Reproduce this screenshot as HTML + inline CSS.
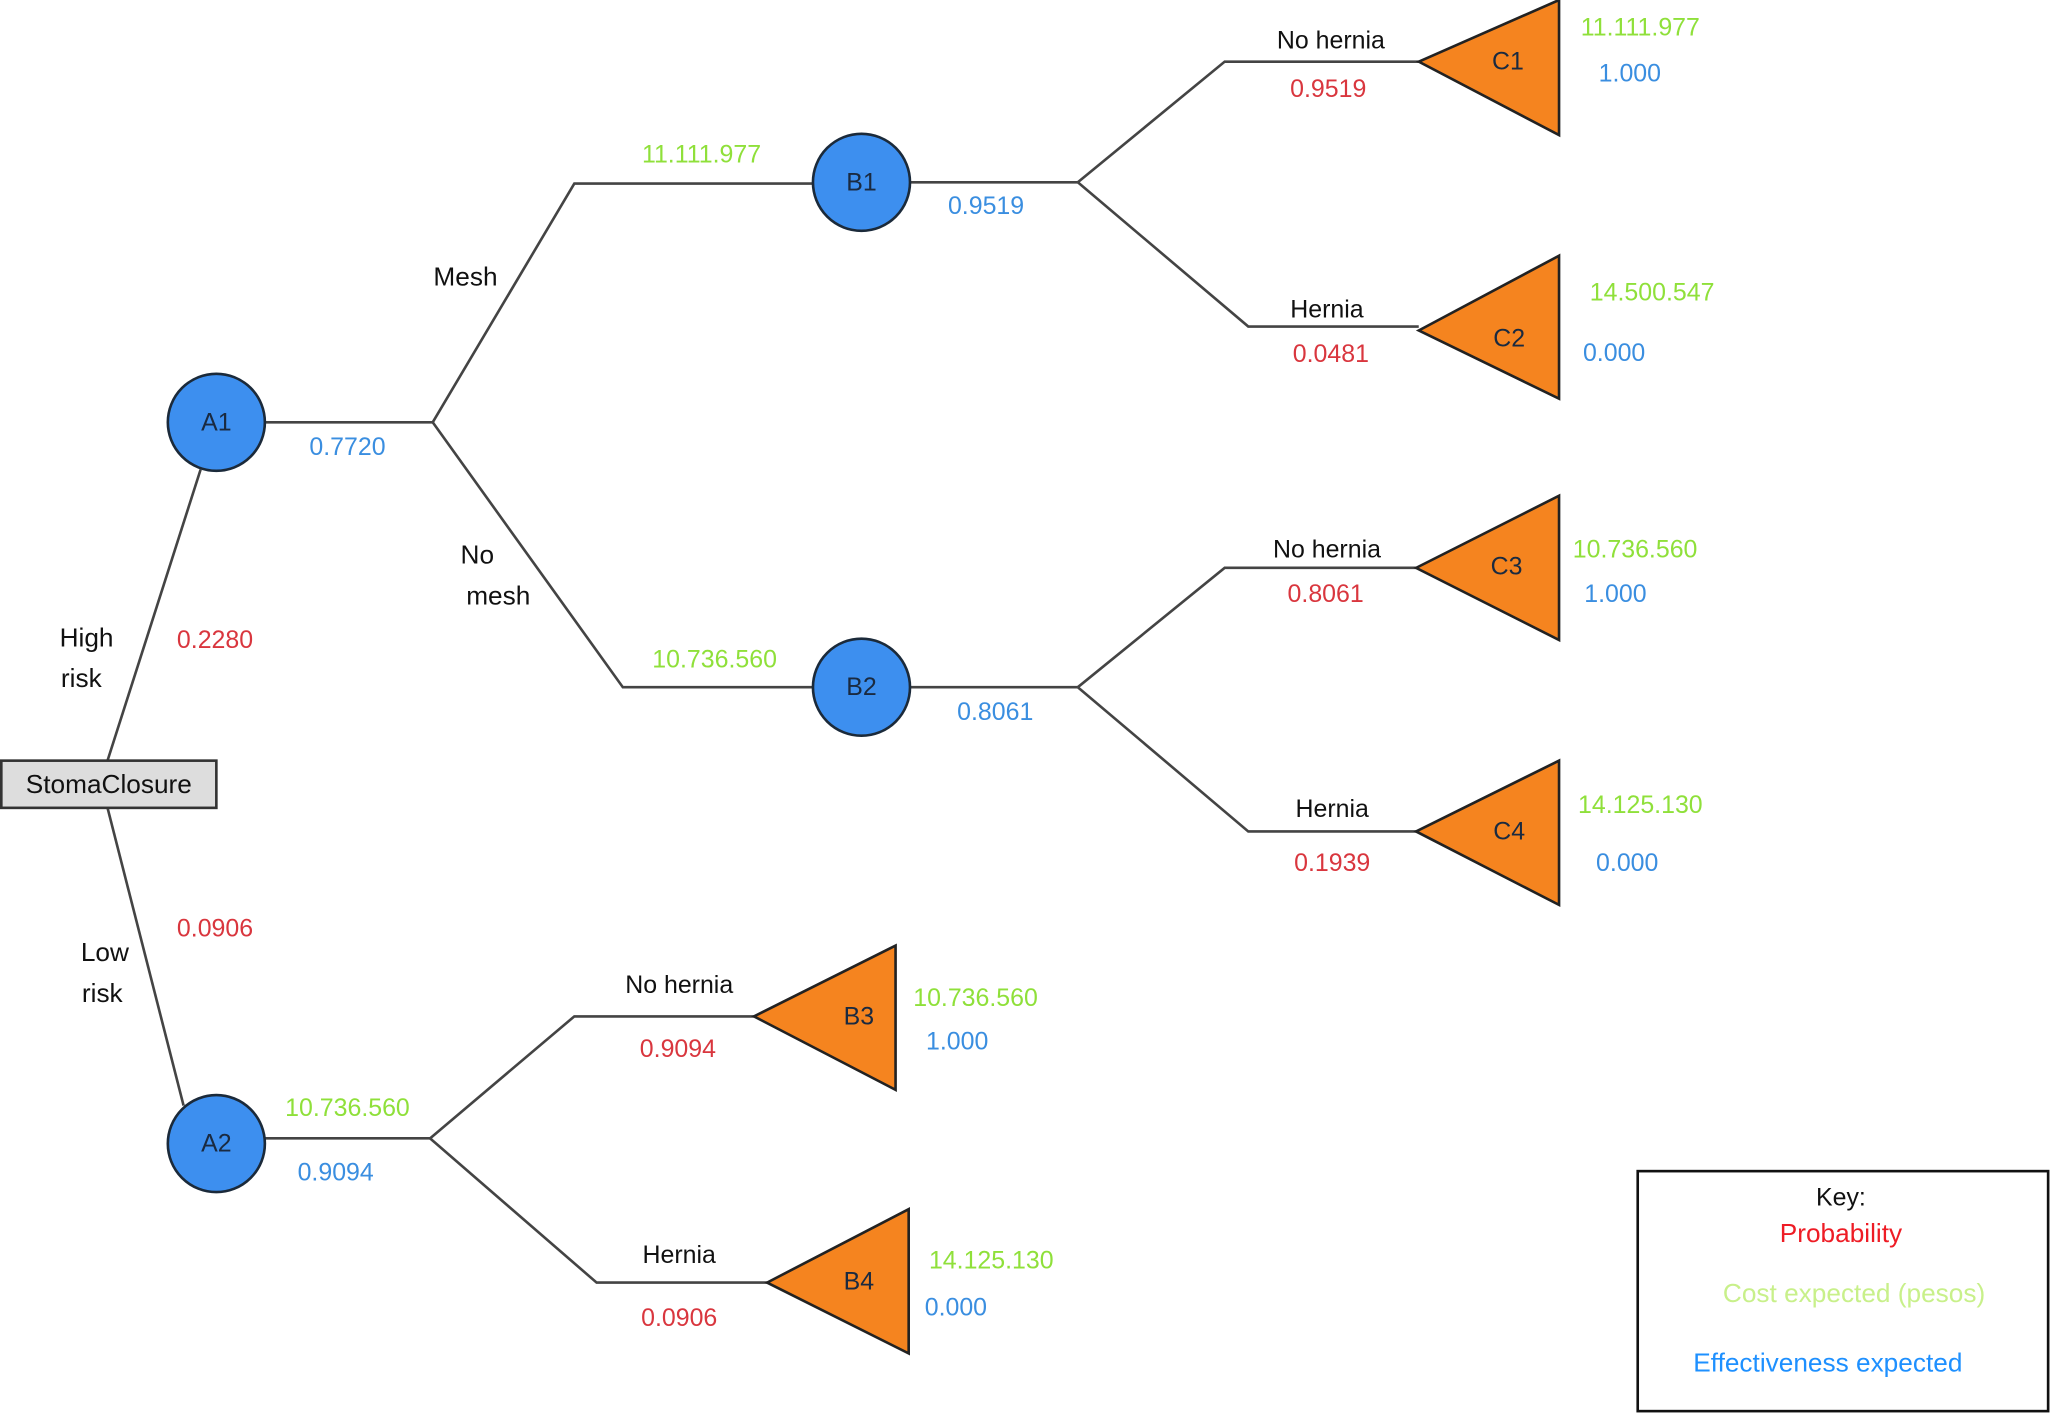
<!DOCTYPE html>
<html><head><meta charset="utf-8"><style>
html,body{margin:0;padding:0;background:#fff;width:2056px;height:1419px;overflow:hidden}
svg{display:block}
text{font-family:"Liberation Sans",sans-serif;text-anchor:middle;dominant-baseline:central}
.g{fill:#8fe03a;font-size:19px}
.b{fill:#3a8ee0;font-size:19px}
.r{fill:#d9363e;font-size:19px}
.k{fill:#111;font-size:20px}
.n{fill:#1a2a40;font-size:19px}
</style></head><body>
<svg width="2056" height="1419" viewBox="0 0 1568 1082" preserveAspectRatio="none" xmlns="http://www.w3.org/2000/svg">
<g stroke="#444" stroke-width="2" fill="none">
<polyline points="82,580 153,358"/>
<polyline points="82,616 140,843"/>
<polyline points="202,322 330,322"/>
<polyline points="330,322 438,140 620,140"/>
<polyline points="330,322 475,524 620,524"/>
<polyline points="694,139 822,139"/>
<polyline points="822,139 934,47 1082,47"/>
<polyline points="822,139 952,249 1082,249"/>
<polyline points="694,524 822,524"/>
<polyline points="822,524 934,433 1080,433"/>
<polyline points="822,524 952,634 1080,634"/>
<polyline points="202,868 328,868"/>
<polyline points="328,868 438,775 575,775"/>
<polyline points="328,868 455,978 585,978"/>
</g>
<rect x="1" y="580" width="164" height="36" fill="#ddd" stroke="#333" stroke-width="2"/>
<text x="83" y="598" class="k">StomaClosure</text>
<g fill="#3d8fef" stroke="#1b2a3a" stroke-width="2">
<circle cx="165" cy="322" r="37"/>
<circle cx="165" cy="872" r="37"/>
<circle cx="657" cy="139" r="37"/>
<circle cx="657" cy="524" r="37"/>
</g>
<g fill="#f5841f" stroke="#222" stroke-width="2">
<polygon points="1082,47 1189,0 1189,103"/>
<polygon points="1082,252 1189,195 1189,304"/>
<polygon points="1080,433 1189,378 1189,488"/>
<polygon points="1080,634 1189,580 1189,690"/>
<polygon points="575,775 683,721 683,831"/>
<polygon points="585,978 693,922 693,1032"/>
</g>
<text x="165" y="322" class="n">A1</text>
<text x="165" y="872" class="n">A2</text>
<text x="657" y="139" class="n">B1</text>
<text x="657" y="524" class="n">B2</text>
<text x="1150" y="47" class="n">C1</text>
<text x="1151" y="258" class="n">C2</text>
<text x="1149" y="432" class="n">C3</text>
<text x="1151" y="634" class="n">C4</text>
<text x="655" y="775" class="n">B3</text>
<text x="655" y="977" class="n">B4</text>

<text x="535" y="118" class="g">11.111.977</text>
<text x="752" y="157" class="b">0.9519</text>
<text x="265" y="341" class="b">0.7720</text>
<text x="355" y="211" class="k">Mesh</text>
<text x="364" y="423" class="k">No</text>
<text x="380" y="454" class="k">mesh</text>
<text x="66" y="486" class="k">High</text>
<text x="62" y="517" class="k">risk</text>
<text x="164" y="488" class="r">0.2280</text>
<text x="545" y="503" class="g">10.736.560</text>
<text x="759" y="543" class="b">0.8061</text>
<text x="164" y="708" class="r">0.0906</text>
<text x="80" y="726" class="k">Low</text>
<text x="78" y="757" class="k">risk</text>
<text x="265" y="845" class="g">10.736.560</text>
<text x="256" y="894" class="b">0.9094</text>

<text x="1015" y="31" class="k" style="font-size:19px">No hernia</text>
<text x="1013" y="68" class="r">0.9519</text>
<text x="1251" y="21" class="g">11.111.977</text>
<text x="1243" y="56" class="b">1.000</text>
<text x="1012" y="236" class="k" style="font-size:19px">Hernia</text>
<text x="1015" y="270" class="r">0.0481</text>
<text x="1260" y="223" class="g">14.500.547</text>
<text x="1231" y="269" class="b">0.000</text>
<text x="1012" y="419" class="k" style="font-size:19px">No hernia</text>
<text x="1011" y="453" class="r">0.8061</text>
<text x="1247" y="419" class="g">10.736.560</text>
<text x="1232" y="453" class="b">1.000</text>
<text x="1016" y="617" class="k" style="font-size:19px">Hernia</text>
<text x="1016" y="658" class="r">0.1939</text>
<text x="1251" y="614" class="g">14.125.130</text>
<text x="1241" y="658" class="b">0.000</text>
<text x="518" y="751" class="k" style="font-size:19px">No hernia</text>
<text x="517" y="800" class="r">0.9094</text>
<text x="744" y="761" class="g">10.736.560</text>
<text x="730" y="794" class="b">1.000</text>
<text x="518" y="957" class="k" style="font-size:19px">Hernia</text>
<text x="518" y="1005" class="r">0.0906</text>
<text x="756" y="961" class="g">14.125.130</text>
<text x="729" y="997" class="b">0.000</text>

<rect x="1249" y="893" width="313" height="183" fill="#fff" stroke="#111" stroke-width="2"/>
<text x="1404" y="913" class="k" style="font-size:19px">Key:</text>
<text x="1404" y="940" style="fill:#ee1c25;font-size:20px">Probability</text>
<text x="1414" y="986" style="fill:#c8f08a;font-size:20px">Cost expected (pesos)</text>
<text x="1394" y="1039" style="fill:#1e90ff;font-size:20px">Effectiveness expected</text>
</svg>
</body></html>
